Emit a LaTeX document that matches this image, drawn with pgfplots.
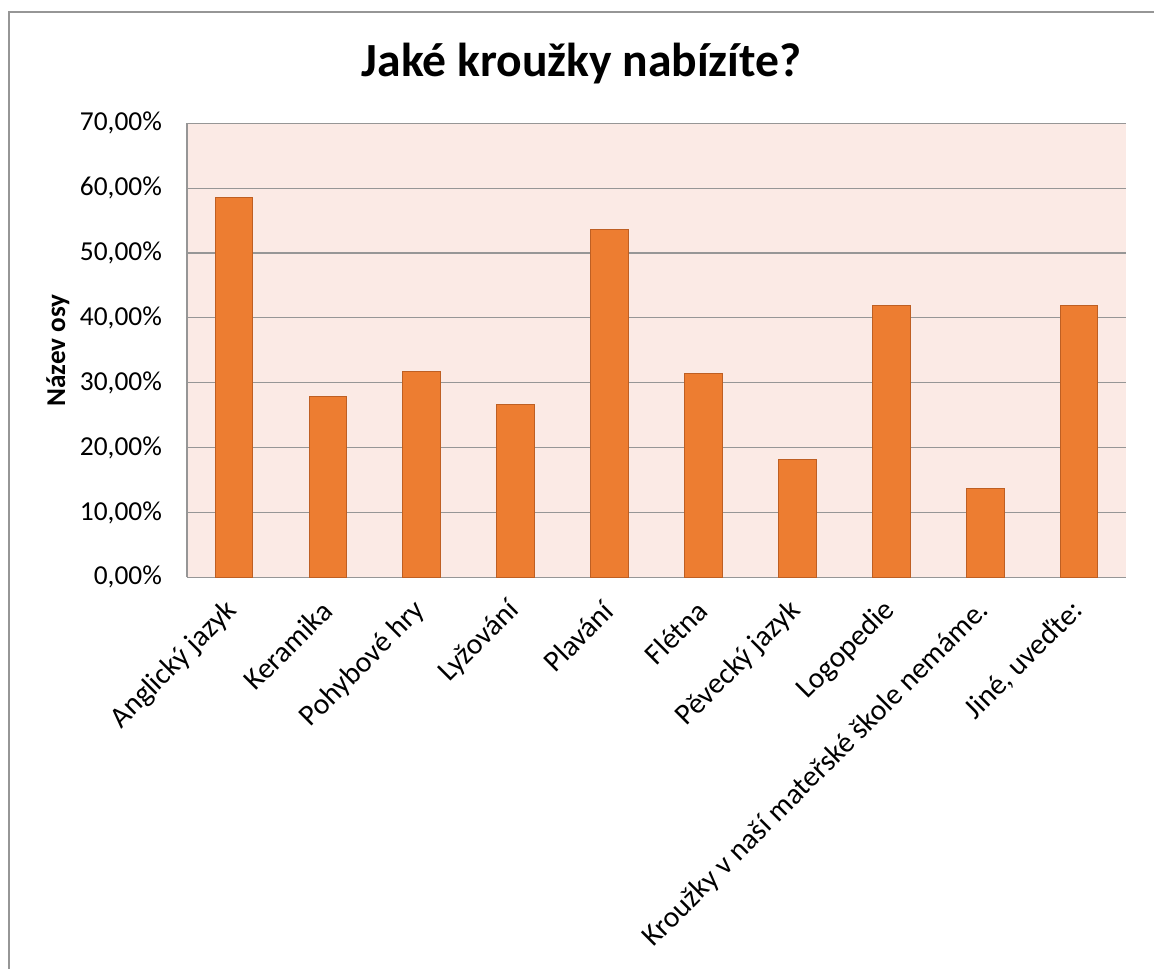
\documentclass[border=0pt]{standalone}
\usepackage{fontspec}
\setmainfont{Carlito}
\usepackage{pgfplots}
\pgfplotsset{compat=1.18}
\definecolor{barfill}{RGB}{237,125,49}
\definecolor{bardraw}{RGB}{190,95,35}
\definecolor{bgpink}{RGB}{251,234,229}
\definecolor{gridgray}{RGB}{150,150,150}
\definecolor{framegray}{RGB}{150,150,150}
\begin{document}
\begin{tikzpicture}
\path[use as bounding box] (0,0) rectangle (577pt,484pt);
\draw[framegray, line width=1pt] (4.3pt,-20pt) -- (4.3pt,478.2pt) -- (620pt,478.2pt);
\node[anchor=base, font=\fontsize{23.8}{28}\selectfont\bfseries] at (290.8pt,445.5pt) {Jaké kroužky nabízíte?};
\begin{axis}[
  at={(93.5pt,195.35pt)}, anchor=south west,
  scale only axis, width=469.5pt, height=227pt,
  xmin=-0.5, xmax=9.5, ymin=0, ymax=70,
  axis background/.style={fill=bgpink},
  axis x line*=bottom, axis y line*=left,
  axis line style={-, gridgray, line width=0.6pt},
  ymajorgrids, grid style={gridgray, line width=0.6pt},
  major tick length=0pt,
  ytick={0,10,...,70},
  xtick={0,...,9},
  /pgf/number format/assume math mode=true,
  yticklabel={\pgfmathprintnumber[fixed,fixed zerofill,precision=2,use comma]{\tick}\%},
  yticklabel style={anchor=east, xshift=-9pt, font=\fontsize{13.7}{16}\selectfont},
  xticklabels={Anglický jazyk,Keramika,Pohybové hry,Lyžování,Plavání,Flétna,Pěvecký jazyk,Logopedie,Kroužky v naší mateřské škole nemáme.,{Jiné, uveďte:}},
  xticklabel style={xshift=2pt, rotate=45, anchor=east, font=\fontsize{14.8}{17}\selectfont},
  xticklabel shift=12pt,
  ylabel={Název osy},
  every axis y label/.style={at={(axis description cs:-0.1374,0.5)}, anchor=center, rotate=90, font=\fontsize{13.6}{16}\selectfont\bfseries},
]
\addplot[ybar, bar width=18.85pt, fill=barfill, draw=bardraw, line width=0.5pt] coordinates {
(0,58.6) (1,27.8) (2,31.7) (3,26.6) (4,53.65) (5,31.35) (6,18.1) (7,41.9) (8,13.7) (9,41.9)
};
\end{axis}
\end{tikzpicture}
\end{document}
